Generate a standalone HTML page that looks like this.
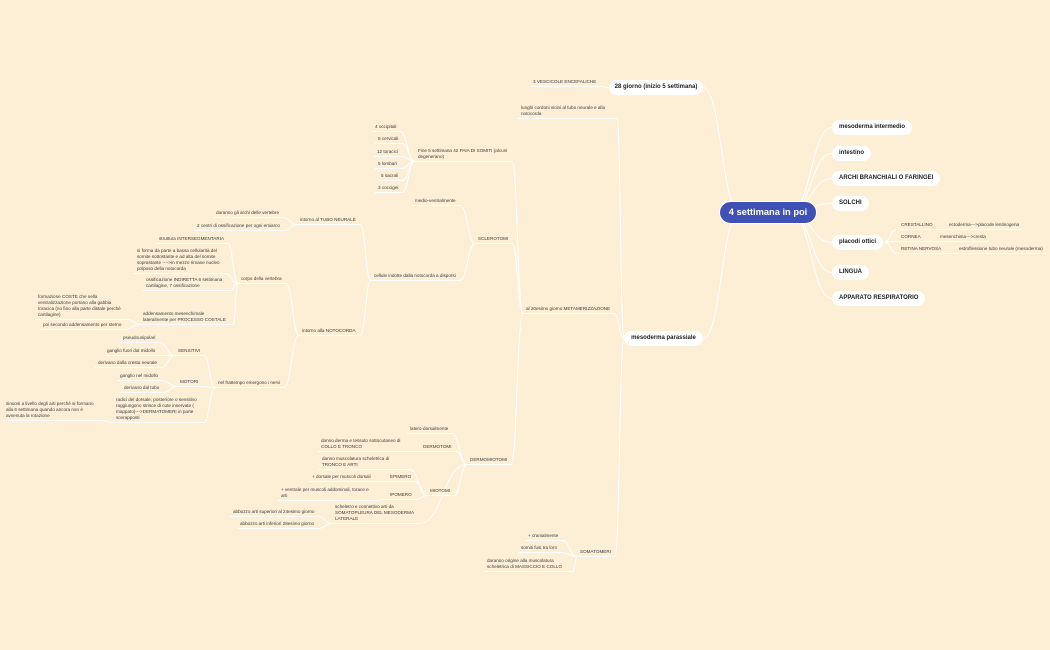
<!DOCTYPE html>
<html><head><meta charset="utf-8">
<style>
html,body{margin:0;padding:0}
body{width:1050px;height:650px;background:#fdefd6;position:relative;overflow:hidden;font-family:"Liberation Sans",sans-serif}
svg{position:absolute;left:0;top:0}
.t{position:absolute;font-size:4.6px;line-height:6px;color:#3a3a3a;white-space:nowrap}
.m{white-space:normal}
.p{position:absolute;background:#fff;border-radius:8px;font-size:6px;font-weight:bold;color:#222;height:15px;line-height:15px;padding:0 7px;white-space:nowrap;box-sizing:border-box}
.root{position:absolute;left:719px;top:201px;width:98px;height:23px;border-radius:12px;background:#3f51b5;color:#fff;font-weight:bold;font-size:9.3px;line-height:21px;text-align:center;border:1px solid #fff;box-sizing:border-box}
</style></head><body>
<svg id="s" width="1050" height="650"></svg>
<div class="root">4 settimana in poi</div>
<div id="c"></div>
<script>
var S=document.getElementById('s'),C=document.getElementById('c');
function path(d){var p=document.createElementNS('http://www.w3.org/2000/svg','path');p.setAttribute('d',d);p.setAttribute('stroke','#fff');p.setAttribute('fill','none');p.setAttribute('stroke-width','1');S.appendChild(p);}
function curve(x1,y1,x2,y2){var mx=(x1+x2)/2;path('M'+x1+' '+y1+' C'+mx+' '+y1+' '+mx+' '+y2+' '+x2+' '+y2);}
var pills=[['mesoderma intermedio',832,120],['intestino',832,146],['ARCHI BRANCHIALI O FARINGEI',832,171],['SOLCHI',832,196],['placodi ottici',832,235],['LINGUA',832,265],['APPARATO RESPIRATORIO',832,291]];
pills.forEach(function(p){var d=document.createElement('div');d.className='p';d.style.left=p[1]+'px';d.style.top=p[2]+'px';d.textContent=p[0];C.appendChild(d);curve(790,212,p[1],p[2]+7.5);});
function pillL(t,x,y,w){var d=document.createElement('div');d.className='p';d.style.left=x+'px';d.style.top=y+'px';d.style.width=w+'px';d.style.textAlign='center';d.style.padding='0';d.textContent=t;C.appendChild(d);}
pillL('28 giorno (inizio 5 settimana)',609,80,94);
pillL('mesoderma parassiale',624,331,79);
curve(740,212,703,87.5);curve(740,212,703,338.5);
var N={},L=[
['v','28',533,82,'3 VESCICOLE ENCEFALICHE'],
['lc','mp',521,108,'lunghi cordoni vicini al tubo neurale e alla notocorda',92],
['me','mp',526,309,'al 20esimo giorno METAMERIZZAZIONE'],
['so','mp',580,552,'SOMATOMERI'],
['f5','me',418,151,'Fine 5 settimana 42 PAIA DI SOMITI (alcuni degenerano)',90],
['sc','me',478,239,'SCLEROTOMI'],
['dm','me',470,460,'DERMOMIOTOMI'],
['o1','f5',375,127,'4 occipitali'],['o2','f5',378,139,'8 cervicali'],['o3','f5',377,152,'12 toracici'],['o4','f5',378,164,'5 lombari'],['o5','f5',381,176,'5 sacrali'],['o6','f5',378,188,'3 coccigei'],
['mv','sc',415,201,'medio-ventralmente'],
['ci','sc',374,276,'cellule indotte dalla notocorda a disporsi'],
['tn','ci',300,220,'intorno al TUBO NEURALE'],
['nc','ci',302,331,'intorno alla NOTOCORDA'],
['a1','tn',216,213,'daranno gli archi delle vertebre'],
['a2','tn',197,226,'2 centri di ossificazione per ogni emiarco'],
['cv','nc',241,279,'corpo della vertebra'],
['nv','nc',218,383,'nel frattempo emergono i nervi'],
['b1','cv',159,239,'struttura INTERSEGMENTARIA'],
['b2','cv',137,251,'si forma da parte a bassa cellularità del somite sottostante e ad alta del somite soprastante ---->in mezzo rimane nucleo polposo della notocorda',84],
['b3','cv',146,280,'ossificazione INDIRETTA 6 settimana cartilagine, 7 ossificazione',80],
['b4','cv',143,314,'addensamento mesenchimale lateralmente per PROCESSO COSTALE',86],
['c1','b4',38,297,'formazione COSTE che nella ventralizzazione portano alla gabbia toracica (no fino alla parte distale perché cartilagine)',86],
['c2','b4',43,325,'poi secondo addensamento per sterno'],
['se','nv',178,351,'SENSITIVI'],
['mo','nv',180,382,'MOTORI'],
['ra','nv',116,400,'radici del dorsale, posteriore o sensitivo raggiungono strisce di cute innervate ( mappato)--->DERMATOMERI in parte sovrapposti',84],
['s1','se',123,338,'pseudounipolari'],['s2','se',107,351,'ganglio fuori dal midollo'],['s3','se',98,363,'derivano dalla cresta neurale'],
['m1','mo',120,376,'ganglio nel midollo'],['m2','mo',124,388,'derivano dal tubo'],
['r1','ra',6,404,'sinuosi a livello degli arti perché si formano alla 6 settimana quando ancora non è avvenuta la rotazione',90],
['d1','dm',410,429,'latero-dorsalmente'],
['dt','dm',423,447,'DERMOTOMI'],
['mi','dm',430,491,'MIOTOMI'],
['sk','dm',335,507,'scheletro e connettivo arti da SOMATOPLEURA DEL MESODERMA LATERALE',80],
['dd','dt',321,441,'danno derma e tessuto sottocutaneo di COLLO E TRONCO',84],
['mm','mi',322,459,'danno muscolatura scheletrica di TRONCO E ARTI',84],
['ep','mi',390,477,'EPIMERO'],
['ip','mi',390,495,'IPOMERO'],
['e1','ep',312,477,'+ dorsale per muscoli dorsali'],
['i1','ip',281,490,'+ ventrale per muscoli addominali, torace e arti',90],
['k1','sk',233,512,'abbozzo arti superiori al 24esimo giorno'],
['k2','sk',240,524,'abbozzo arti inferiori 28esimo giorno'],
['q1','so',528,536,'+ cranialmente'],['q2','so',521,548,'somiti fusi tra loro'],
['q3','so',487,561,'daranno origine alla muscolatura scheletrica di MASSICCIO E COLLO',82]
];
N['28']={l:609,y:87.5};N['mp']={l:624,y:338.5};
L.forEach(function(a){var d=document.createElement('div');d.className='t'+(a[5]?' m':'');d.style.left=a[2]+'px';d.style.top=(a[3]-3)+'px';if(a[5])d.style.width=a[5]+'px';d.textContent=a[4];C.appendChild(d);
var w=d.offsetWidth,h=d.offsetHeight;var uy=a[3]-3+h+1.5;var l=a[2]-3,r=a[2]+w+4;path('M'+l+' '+uy+' H'+r);N[a[0]]={l:l,r:r,y:uy};});
L.forEach(function(a){var p=N[a[1]],c=N[a[0]];curve(p.l,p.y,c.r,c.y);});
var R=[['CRESTALLINO',901,225,'ectoderma--->placode lentinogena',949],['CORNEA',901,237,'mesenchima--->cresta',940],['RETINA NERVOSA',901,249,'estroflessione tubo neurale (mesoderma)',959]];
R.forEach(function(a){var d=document.createElement('div');d.className='t';d.style.left=a[1]+'px';d.style.top=(a[2]-3)+'px';d.textContent=a[0];C.appendChild(d);
var e=document.createElement('div');e.className='t';e.style.left=a[4]+'px';e.style.top=(a[2]-3)+'px';e.textContent=a[3];C.appendChild(e);
var uy=a[2]+4.5;curve(884,242,a[1]-4,uy);path('M'+(a[1]-4)+' '+uy+' H'+(a[4]+e.offsetWidth+3));});
</script>
</body></html>
